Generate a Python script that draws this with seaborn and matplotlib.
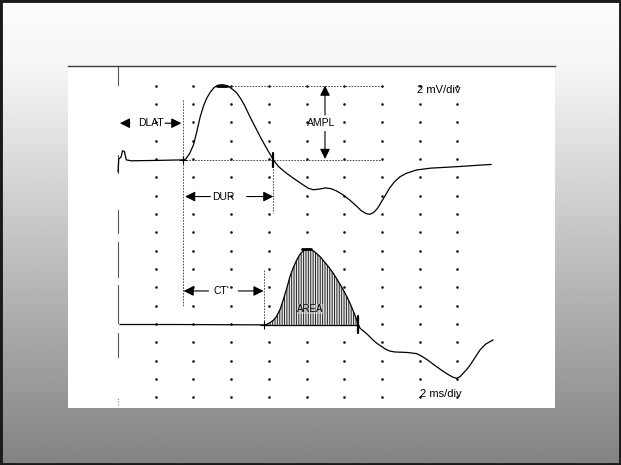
import numpy as np
import matplotlib
matplotlib.use("Agg")
import matplotlib.pyplot as plt
import seaborn as sns
from matplotlib.patches import Rectangle

# ==========================================
# DATA (x in grid divisions of 2 ms, y in dot rows)
# ==========================================
upper_x = [0.0, 0.02, 0.08, 0.12, 0.17, 0.22, 0.35, 1.0, 1.73, 1.8, 1.9, 2.0, 2.08, 2.18,
           2.27, 2.35, 2.45, 2.55, 2.65, 2.75, 2.85, 2.95, 3.05, 3.15, 3.25, 3.35, 3.5,
           3.65, 3.8, 3.95, 4.05, 4.12, 4.25, 4.45, 4.65, 4.9, 5.05, 5.18, 5.35, 5.5,
           5.65, 5.8, 5.97, 6.15, 6.33, 6.45, 6.58, 6.68, 6.78, 6.88, 6.99, 7.1, 7.2,
           7.33, 7.48, 7.65, 7.92, 8.3, 9.0, 9.5, 9.9]
upper_y = [12.3, 13.0, 13.1, 13.45, 13.4, 12.95, 12.9, 12.92, 12.95, 13.0, 13.3, 13.76,
           14.4, 15.3, 15.9, 16.3, 16.65, 16.9, 17.02, 17.05, 17.02, 16.93, 16.78, 16.6,
           16.3, 15.95, 15.3, 14.7, 14.1, 13.55, 13.2, 12.95, 12.6, 12.25, 11.95, 11.6,
           11.4, 11.32, 11.36, 11.42, 11.38, 11.25, 11.04, 10.75, 10.42, 10.18, 10.02,
           9.98, 10.08, 10.3, 10.67, 11.05, 11.4, 11.75, 12.03, 12.22, 12.4, 12.5, 12.58,
           12.65, 12.7]

lower_x = [0.05, 1.5, 3.86, 3.95, 4.05, 4.12, 4.2, 4.3, 4.38, 4.47, 4.56, 4.65, 4.74,
           4.82, 4.9, 5.0, 5.1, 5.2, 5.36, 5.5, 5.62, 5.71, 5.82, 5.95, 6.07, 6.17, 6.27,
           6.37, 6.42, 6.52, 6.62, 6.75, 6.86, 6.97, 7.1, 7.21, 7.35, 7.5, 7.7, 7.92,
           8.05, 8.2, 8.33, 8.45, 8.6, 8.75, 8.88, 8.98, 9.07, 9.15, 9.25, 9.34, 9.47,
           9.6, 9.75, 9.95]
lower_y = [3.97, 3.97, 3.95, 3.98, 4.1, 4.2, 4.4, 4.8, 5.3, 5.9, 6.58, 7.08, 7.49, 7.78,
           7.97, 8.07, 8.06, 7.96, 7.67, 7.33, 7.02, 6.76, 6.4, 5.95, 5.49, 5.05, 4.55,
           4.0, 3.76, 3.6, 3.42, 3.15, 2.95, 2.8, 2.62, 2.52, 2.47, 2.46, 2.44, 2.38,
           2.25, 2.05, 1.85, 1.67, 1.45, 1.25, 1.1, 1.04, 1.12, 1.3, 1.52, 1.76, 2.17,
           2.58, 2.9, 3.13]

grid_cols = [1, 2, 3, 4, 5, 6, 7, 8, 9]
grid_rows = list(range(18))

# vertical axis line pieces (scanned, broken)
axis_segments = [(18.04, 17.04), (13.22, 12.22), (10.22, 8.97), (8.49, 6.58),
                 (6.13, 4.04), (3.49, 2.21)]

upper_base = 12.95
upper_peak = 17.0
upper_onset, upper_end = 1.73, 4.12
lower_base = 3.95
lower_onset, lower_end = 3.86, 6.37

# ==========================================
# FIGURE
# ==========================================
sns.set_theme(style="white")
plt.rcParams["font.family"] = ["Liberation Sans", "DejaVu Sans"]
plt.rcParams["hatch.linewidth"] = 0.7

fig = plt.figure(figsize=(6.21, 4.65), dpi=100)

# background gradient
bg = fig.add_axes([0, 0, 1, 1])
rows_px = np.arange(465)
shade = np.interp(rows_px, [0, 70, 465], [0.99, 0.96, 0.51])
bg.imshow(np.repeat(shade[:, None], 2, axis=1), cmap="gray", vmin=0, vmax=1,
          aspect="auto", extent=[0, 1, 0, 1])
bg.add_patch(Rectangle((0, 0), 1, 1, transform=bg.transAxes, fill=False,
                       edgecolor="#1a1a1a", lw=3.5))
bg.set_axis_off()

# white panel
ax = fig.add_axes([68 / 621, (465 - 408) / 465, (555 - 68) / 621, (408 - 66) / 465])
ax.set_facecolor("white")
ax.set_xlim(-1.326, 11.59)
ax.set_ylim(-0.584, 18.07)
for side in ["left", "right", "bottom"]:
    ax.spines[side].set_visible(False)
ax.spines["top"].set_color("#3a3a3a")
ax.spines["top"].set_linewidth(1.0)
ax.set_xticks([])
ax.set_yticks([])

# dot grid
gx, gy = np.meshgrid(grid_cols, grid_rows)
sns.scatterplot(x=gx.ravel(), y=gy.ravel(), ax=ax, s=3.5, color="#111111",
                linewidth=0, legend=False)

# broken y axis line
for top, bottom in axis_segments:
    ax.plot([0.0, 0.0], [bottom, top], color="#555555", lw=0.8)
ax.plot([0.0, 0.0], [-0.42, 0.03], color="#888888", lw=0.8, ls=(0, (1, 1.5)))

# reference dotted lines
dot_style = dict(color="#333333", lw=0.6, ls=(0, (2, 1.5)))
ax.plot([2.62, 6.97], [upper_peak, upper_peak], **dot_style)
ax.plot([upper_onset, 6.97], [upper_base, upper_base], **dot_style)
ax.plot([upper_onset, upper_onset], [16.2, 4.95], **dot_style)
ax.plot([upper_end, upper_end], [upper_base, 10.05], **dot_style)
ax.plot([lower_onset, lower_onset], [6.95, lower_base], **dot_style)

# area hatching
lx = np.array(lower_x)
ly = np.array(lower_y)
mask = (lx >= lower_onset) & (lx <= lower_end)
ax.fill_between(lx[mask], lower_base, ly[mask], facecolor="#e8e8e8", edgecolor="#222222",
                hatch="|||||||", lw=0)
ax.plot([lower_onset, lower_end], [lower_base, lower_base], color="black", lw=0.9)

# traces
line_kw = dict(color="black", lw=0.9, sort=False, estimator=None)
sns.lineplot(x=upper_x, y=upper_y, ax=ax, **line_kw)
sns.lineplot(x=lower_x, y=lower_y, ax=ax, **line_kw)

# markers
ax.plot([2.62, 2.88], [upper_peak, upper_peak], color="black", lw=2.0)
ax.plot([4.88, 5.12], [8.1, 8.1], color="black", lw=2.0)
ax.plot([upper_onset, lower_onset], [upper_base, lower_base], ls="none", marker="+",
        ms=6, mew=0.8, color="black")
ax.plot([upper_end, upper_end], [12.55, 13.35], color="black", lw=1.6)
ax.plot([lower_end, lower_end], [3.5, 4.45], color="black", lw=1.6)


def arrow(x0, y0, x1, y1):
    ax.annotate("", xy=(x1, y1), xytext=(x0, y0),
                arrowprops=dict(arrowstyle="-|>,head_length=0.6,head_width=0.3",
                                color="black", lw=0.8, mutation_scale=10,
                                shrinkA=0, shrinkB=0))


txt = dict(fontsize=7.5, color="black", ha="center", va="center")

# DLAT
arrow(0.32, 14.95, 0.05, 14.95)
arrow(1.25, 14.95, 1.68, 14.95)
ax.text(0.87, 14.95, "DLAT", **txt)

# DUR
arrow(2.45, 10.95, 1.78, 10.95)
arrow(3.41, 10.95, 4.12, 10.95)
ax.text(2.8, 10.95, "DUR", **txt)

# CT'
arrow(2.4, 5.8, 1.74, 5.8)
arrow(3.19, 5.8, 3.86, 5.8)
ax.text(2.75, 5.8, "CT'", **txt)

# AMPL
arrow(5.49, 15.4, 5.49, 17.0)
arrow(5.49, 14.5, 5.49, 13.0)
ax.text(5.38, 14.95, "AMPL", **txt)

# AREA
ax.text(5.11, 4.82, "AREA", fontsize=7, color="black", ha="center", va="center",
        bbox=dict(facecolor="#dddddd", edgecolor="none", pad=0.2, alpha=0.5))

# scale labels
ax.text(7.92, 16.76, "2 mV/div", fontsize=8, ha="left", va="center", color="black")
ax.text(8.0, 0.2, "2 ms/div", fontsize=8, ha="left", va="center", color="black")

fig.savefig("out.png", dpi=100)
